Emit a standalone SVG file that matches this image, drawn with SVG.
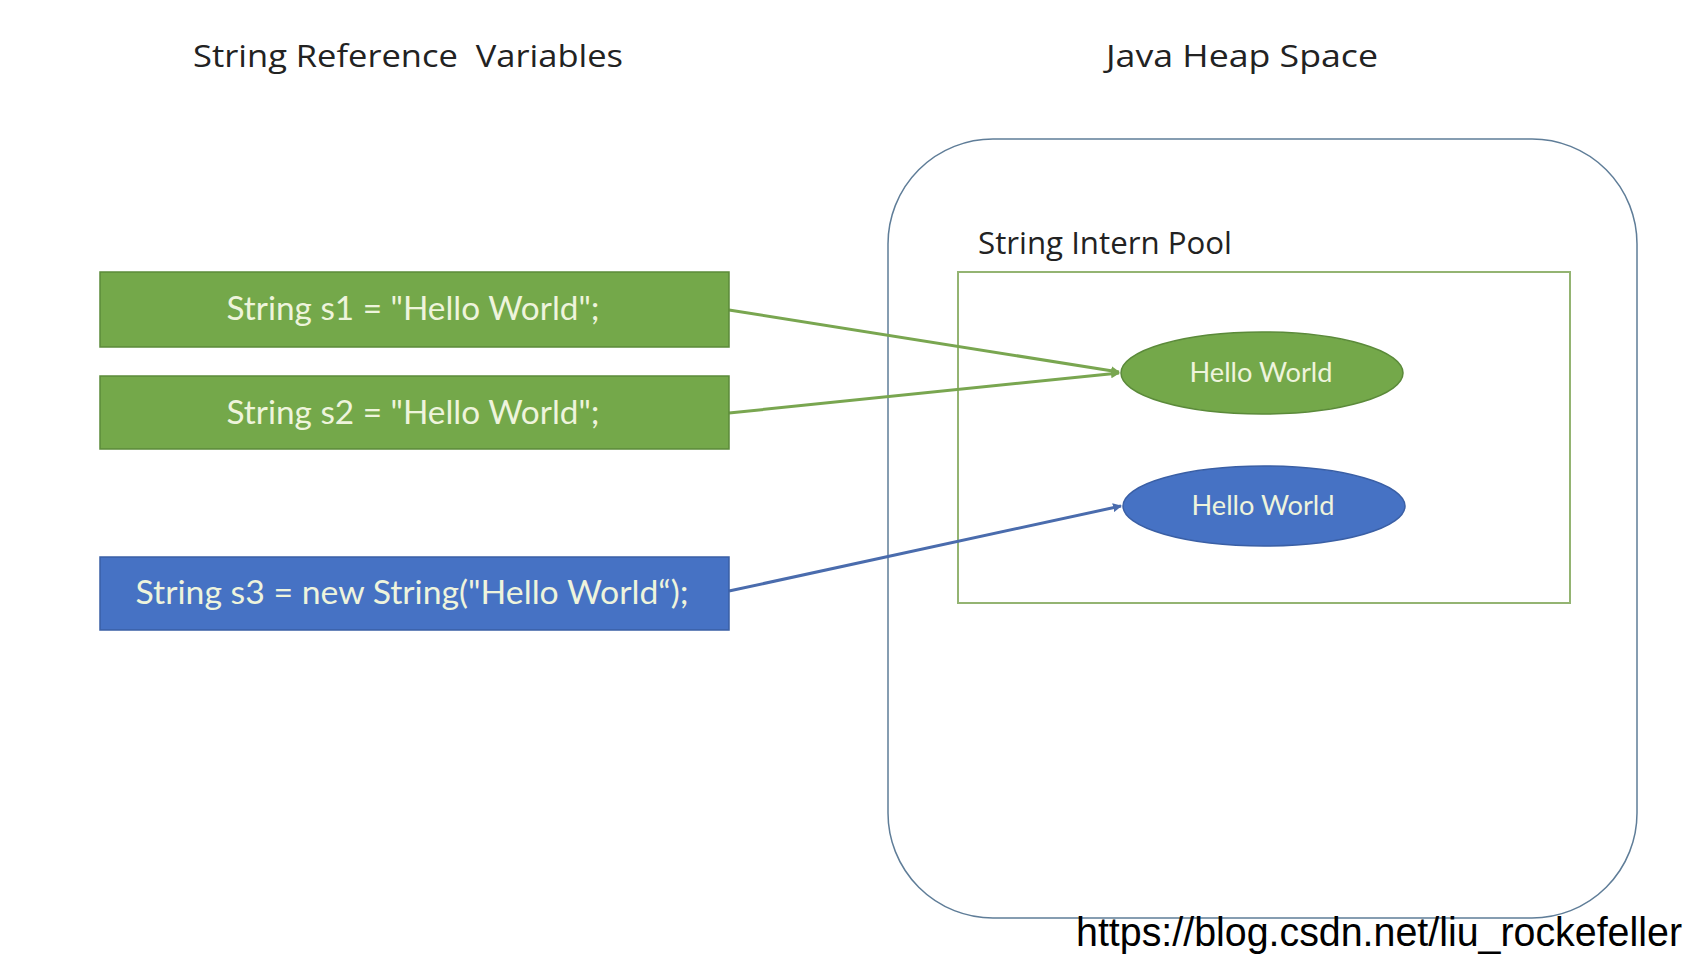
<svg xmlns="http://www.w3.org/2000/svg" width="1698" height="968" viewBox="0 0 1698 968">
<style>
.title{font-family:"Open Sans","Noto Sans",sans-serif;font-size:31px;fill:#222}
.btxt{font-family:Lato,"Open Sans",sans-serif;font-size:32px;fill:#eef4dc}
.etxt{font-family:Lato,"Open Sans",sans-serif;font-size:26px;fill:#eef4dc}
.gbox{fill:#74a84a;stroke:#5b8a3a;stroke-width:1.5}
.bbox{fill:#4672c4;stroke:#3a5fa5;stroke-width:1.5}
.gl{stroke:#79a650;stroke-width:3;fill:none}
.bl{stroke:#4a6cad;stroke-width:3;fill:none}
</style>
<defs>
<marker id="ag" markerWidth="9" markerHeight="9" refX="8" refY="4.5" orient="auto" markerUnits="userSpaceOnUse" viewBox="0 0 9 9"><path d="M0,0 L9,4.5 L0,9 z" fill="#79a650"/></marker>
<marker id="ab" markerWidth="9" markerHeight="9" refX="8" refY="4.5" orient="auto" markerUnits="userSpaceOnUse" viewBox="0 0 9 9"><path d="M0,0 L9,4.5 L0,9 z" fill="#4a6cad"/></marker>
</defs>
<rect width="1698" height="968" fill="#fff"/>
<g id="titles">
<text class="title" x="408" y="67" text-anchor="middle" textLength="430" lengthAdjust="spacingAndGlyphs" xml:space="preserve">String Reference  Variables</text>
<text class="title" x="1242" y="67" text-anchor="middle" textLength="272" lengthAdjust="spacingAndGlyphs">Java Heap Space</text>
</g>
<g id="heap">
<rect x="888" y="139" width="749" height="779" rx="105" ry="105" fill="none" stroke="#5f7d98" stroke-width="1.5"/>
</g>
<g id="pool">
<text class="title" x="978" y="254" textLength="254" lengthAdjust="spacingAndGlyphs">String Intern Pool</text>
<rect x="958" y="272" width="612" height="331" fill="none" stroke="#94b472" stroke-width="2"/>
</g>
<g id="connectors">
<line class="gl" x1="729" y1="310" x2="1119" y2="372" marker-end="url(#ag)"/>
<line class="gl" x1="729" y1="413" x2="1119" y2="373" marker-end="url(#ag)"/>
<line class="bl" x1="729" y1="591" x2="1121" y2="506" marker-end="url(#ab)"/>
</g>
<g id="s1">
<rect class="gbox" x="100" y="272" width="629" height="75"/>
<text class="btxt" x="413" y="320" text-anchor="middle" textLength="373" lengthAdjust="spacingAndGlyphs">String s1 = "Hello World";</text>
</g>
<g id="s2">
<rect class="gbox" x="100" y="376" width="629" height="73"/>
<text class="btxt" x="413" y="424" text-anchor="middle" textLength="373" lengthAdjust="spacingAndGlyphs">String s2 = "Hello World";</text>
</g>
<g id="s3">
<rect class="bbox" x="100" y="557" width="629" height="73"/>
<text class="btxt" x="412" y="604" text-anchor="middle" textLength="553" lengthAdjust="spacingAndGlyphs">String s3 = new String("Hello World“);</text>
</g>
<g id="literal">
<ellipse cx="1262" cy="373" rx="141" ry="41" fill="#74a84a" stroke="#5b8a3a" stroke-width="1.5"/>
<text class="etxt" x="1261" y="382" text-anchor="middle" textLength="143" lengthAdjust="spacingAndGlyphs">Hello World</text>
</g>
<g id="object">
<ellipse cx="1264" cy="506" rx="141" ry="40" fill="#4672c4" stroke="#3a5fa5" stroke-width="1.5"/>
<text class="etxt" x="1263" y="515" text-anchor="middle" textLength="143" lengthAdjust="spacingAndGlyphs">Hello World</text>
</g>
<g id="watermark">
<text x="1076" y="946" font-family="'Liberation Sans',Arial,sans-serif" font-size="40" fill="#000" textLength="606" lengthAdjust="spacingAndGlyphs">https://blog.csdn.net/liu_rockefeller</text>
</g>
</svg>
